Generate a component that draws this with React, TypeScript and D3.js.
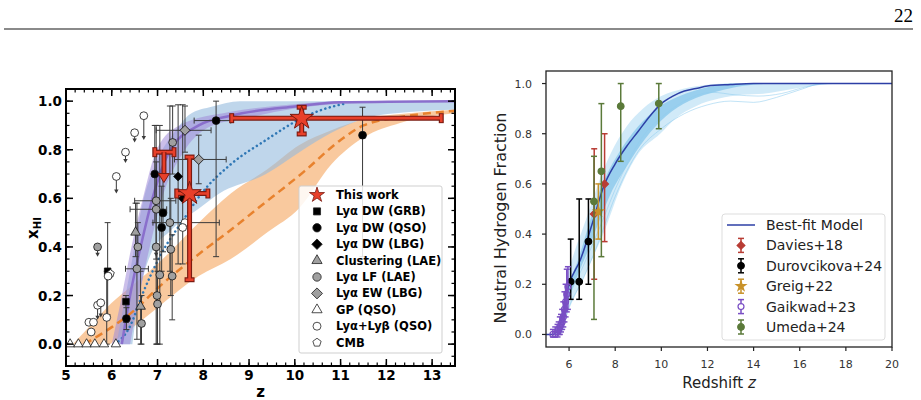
import * as d3 from "d3";
import React from "react";

type XY = [number, number];
type Pt = { z: number; x: number; zlo?: number; zhi?: number; xlo?: number; xhi?: number; lim?: number };

// ---------------- left panel data ----------------
const leftXTicks = [5, 6, 7, 8, 9, 10, 11, 12, 13];
const leftYTicks = [0, 0.2, 0.4, 0.6, 0.8, 1.0];

const purpleUpper: XY[] = [[6.0, 0], [6.2, 0.18], [6.43, 0.4], [6.68, 0.6], [6.98, 0.8], [7.48, 0.9], [8.57, 0.955], [10, 0.987], [11, 1.0], [13.5, 1.0]];
const purpleLower: XY[] = [[6.4, 0], [6.6, 0.2], [6.83, 0.4], [7.1, 0.6], [7.6, 0.8], [8.2, 0.9], [8.8, 0.925], [10, 0.97], [11.5, 0.993], [13.5, 1.0]];
const purpleMid: XY[] = [[6.22, 0], [6.4, 0.2], [6.63, 0.4], [6.89, 0.6], [7.28, 0.8], [7.9, 0.9], [8.6, 0.94], [10, 0.978], [11, 0.995], [13.5, 1.0]];

const blueUpper: XY[] = [[6.1, 0], [6.4, 0.3], [6.7, 0.6], [7.0, 0.76], [7.4, 0.88], [7.7, 0.945], [8.2, 0.978], [8.8, 1.0], [13.5, 1.0]];
const blueLower: XY[] = [[6.45, 0], [6.6, 0.2], [6.83, 0.36], [7.3, 0.47], [7.92, 0.56], [8.35, 0.62], [9.37, 0.7], [10.1, 0.79], [10.8, 0.87], [11.55, 0.93], [12.5, 0.955], [13.5, 0.965]];
const blueDotted: XY[] = [[6.07, 0], [6.39, 0.07], [6.68, 0.21], [7.05, 0.36], [7.63, 0.53], [7.92, 0.61], [8.6, 0.74], [9.37, 0.84], [10.1, 0.925], [10.6, 0.965], [11.1, 0.99]];

const orangeUpper: XY[] = [[5.15, 0], [5.6, 0.09], [6.0, 0.17], [6.5, 0.25], [7.0, 0.33], [7.9, 0.5], [8.6, 0.62], [9.4, 0.72], [10.1, 0.82], [10.8, 0.88], [11.5, 0.925], [12.5, 0.95], [13.5, 0.965]];
const orangeLower: XY[] = [[5.96, 0], [6.4, 0.06], [7.0, 0.15], [7.9, 0.28], [8.6, 0.35], [9.4, 0.46], [10.1, 0.56], [10.8, 0.74], [11.5, 0.85], [12.3, 0.91], [13.5, 0.95]];
const orangeDashed: XY[] = [[5.4, 0], [6.0, 0.07], [6.5, 0.14], [7.0, 0.23], [7.9, 0.37], [8.6, 0.47], [9.2, 0.56], [10.2, 0.71], [11.0, 0.84], [11.5, 0.9], [12.5, 0.94], [13.5, 0.96]];

const thisWork: Pt[] = [
  { z: 7.7, x: 0.62, zlo: 7.42, zhi: 8.1, xlo: 0.265, xhi: 0.77 },
  { z: 10.15, x: 0.93, zlo: 8.62, zhi: 13.2, xlo: 0.865, xhi: 0.975 },
];
const thisWorkLimit: Pt[] = [{ z: 7.14, x: 0.79, zlo: 6.94, zhi: 7.36, lim: 0.665 }];

const grbPts: Pt[] = [
  { z: 5.91, x: 0.3, xlo: 0.12, xhi: 0.5 },
  { z: 6.31, x: 0.175, xlo: 0.09, xhi: 0.2 },
];
const qsoPts: Pt[] = [
  { z: 6.32, x: 0.105, xlo: 0.06, xhi: 0.15 },
  { z: 6.94, x: 0.7, xlo: 0.5, xhi: 0.9 },
  { z: 7.09, x: 0.48, xlo: 0.3, xhi: 0.65 },
  { z: 7.12, x: 0.54, xlo: 0.38, xhi: 0.7 },
  { z: 8.28, x: 0.92, zlo: 7.8, zhi: 8.6, xlo: 0.36, xhi: 1.0 },
  { z: 11.48, x: 0.86, xlo: 0.36, xhi: 0.975 },
];
const lbgPts: Pt[] = [
  { z: 7.45, x: 0.69, xlo: 0.33, xhi: 0.985 },
  { z: 7.55, x: 0.6, xlo: 0.33, xhi: 0.985 },
];
const clusterPts: Pt[] = [
  { z: 6.52, x: 0.46, xlo: 0.36, xhi: 0.58 },
  { z: 6.63, x: 0.155, xlo: 0.0, xhi: 0.3 },
];
const lfPts: Pt[] = [
  { z: 5.69, x: 0.4, lim: 0.36 },
  { z: 6.57, x: 0.4, xlo: 0.3, xhi: 0.5 },
  { z: 6.55, x: 0.31, xlo: 0.02, xhi: 0.58, zlo: 6.3, zhi: 6.8 },
  { z: 6.65, x: 0.085, xlo: 0.0, xhi: 0.2 },
  { z: 6.97, x: 0.59, xlo: 0.0, xhi: 0.9, zlo: 6.5, zhi: 7.4 },
  { z: 6.97, x: 0.555, xlo: 0.35, xhi: 0.75, zlo: 6.4, zhi: 7.2 },
  { z: 6.97, x: 0.4, lim: 0.36 },
  { z: 6.99, x: 0.2, xlo: 0.0, xhi: 0.4 },
  { z: 7.0, x: 0.165, xlo: 0.0, xhi: 0.3 },
  { z: 7.05, x: 0.285, xlo: 0.0, xhi: 0.9 },
  { z: 7.27, x: 0.5, xlo: 0.3, xhi: 0.98 },
  { z: 7.29, x: 0.39, xlo: 0.2, xhi: 0.6 },
  { z: 7.32, x: 0.28, xlo: 0.1, xhi: 0.45 },
  { z: 7.33, x: 0.83, xlo: 0.7, xhi: 0.98 },
];
const ewPts: Pt[] = [
  { z: 7.6, x: 0.88, zlo: 6.97, zhi: 8.17, xlo: 0.79, xhi: 0.98 },
  { z: 7.9, x: 0.76, zlo: 7.37, zhi: 8.5, xlo: 0.66, xhi: 0.86 },
];
const gpPts: Pt[] = [
  { z: 5.09, x: 0 }, { z: 5.27, x: 0 }, { z: 5.45, x: 0 }, { z: 5.63, x: 0 }, { z: 5.83, x: 0 }, { z: 6.09, x: 0 },
];
const lyabPts: Pt[] = [
  { z: 6.1, x: 0.69, lim: 0.62 },
  { z: 6.3, x: 0.79, lim: 0.745 },
  { z: 6.5, x: 0.87, lim: 0.83 },
  { z: 6.7, x: 0.94, lim: 0.84 },
  { z: 5.5, x: 0.09 },
  { z: 5.6, x: 0.09 },
  { z: 5.55, x: 0.05 },
  { z: 5.69, x: 0.16, lim: 0.1 },
  { z: 5.76, x: 0.17, lim: 0.11 },
  { z: 5.89, x: 0.11, xlo: 0.0, xhi: 0.3 },
  { z: 5.92, x: 0.28 },
  { z: 7.6, x: 0.5, zlo: 6.9, zhi: 8.35 },
  { z: 7.55, x: 0.48 },
];
const cmbPts: Pt[] = [{ z: 5.97, x: 0.29 }];

const leftLegend = ["This work", "Lyα DW (GRB)", "Lyα DW (QSO)", "Lyα DW (LBG)", "Clustering (LAE)", "Lyα LF (LAE)", "Lyα EW (LBG)", "GP (QSO)", "Lyα+Lyβ (QSO)", "CMB"];

// ---------------- right panel data ----------------
const rightXTicks = [6, 8, 10, 12, 14, 16, 18, 20];
const rightYTicks = [0, 0.2, 0.4, 0.6, 0.8, 1.0];

const bestFit: XY[] = [[5.0, 0], [5.3, 0.0], [5.6, 0.04], [6.0, 0.2], [6.5, 0.3], [7.0, 0.44], [7.5, 0.59], [8.0, 0.68], [8.5, 0.75], [9.0, 0.81], [9.5, 0.87], [10.0, 0.92], [10.5, 0.95], [11, 0.97], [11.5, 0.98], [12, 0.99], [13, 0.996], [14, 1.0], [20, 1.0]];
const postOuterUpper: XY[] = [[5.0, 0], [5.35, 0], [5.6, 0.05], [5.85, 0.2], [6.2, 0.32], [6.55, 0.41], [7.0, 0.53], [7.26, 0.6], [7.8, 0.72], [8.5, 0.83], [9.2, 0.9], [10, 0.95], [11, 0.98], [12, 0.995], [13, 1], [20, 1]];
const postOuterLower: XY[] = [[5.0, 0], [5.6, 0], [6.0, 0.1], [6.5, 0.2], [7.0, 0.3], [7.48, 0.4], [8.3, 0.6], [9.0, 0.72], [9.95, 0.8], [10.6, 0.86], [11.5, 0.91], [12.5, 0.94], [13.5, 0.955], [14.5, 0.96], [15.5, 0.975], [16.5, 0.99], [18, 1], [20, 1]];
const postInnerUpper: XY[] = [[5.0, 0], [5.4, 0], [5.7, 0.07], [6.0, 0.2], [6.4, 0.3], [6.8, 0.42], [7.2, 0.54], [7.6, 0.63], [8.2, 0.73], [9.0, 0.83], [9.8, 0.9], [10.8, 0.95], [12, 0.985], [13, 1], [20, 1]];
const postInnerLower: XY[] = [[5.0, 0], [5.5, 0], [5.9, 0.12], [6.3, 0.22], [6.8, 0.33], [7.3, 0.45], [7.8, 0.56], [8.5, 0.67], [9.3, 0.78], [10.2, 0.87], [11.2, 0.93], [12.5, 0.97], [13.5, 0.99], [15, 1], [20, 1]];
const sampleA: XY[] = [[5.0, 0], [5.6, 0], [6.0, 0.11], [6.6, 0.22], [7.2, 0.35], [8.0, 0.55], [9.0, 0.73], [10.0, 0.82], [11.0, 0.88], [12.0, 0.915], [13.0, 0.93], [14.0, 0.925], [15.0, 0.945], [16.0, 0.975], [17.0, 1.0], [20, 1.0]];
const sampleB: XY[] = [[5.0, 0], [5.5, 0], [6.0, 0.15], [6.6, 0.27], [7.3, 0.42], [8.2, 0.62], [9.2, 0.79], [10.2, 0.88], [11.2, 0.94], [12.2, 0.965], [13.2, 0.955], [14.2, 0.95], [15.2, 0.96], [16.2, 0.985], [17.2, 1.0], [20, 1.0]];

const davies: Pt[] = [
  { z: 7.09, x: 0.48, xlo: 0.22, xhi: 0.74 },
  { z: 7.54, x: 0.6, xlo: 0.37, xhi: 0.8 },
];
const durovcikova: Pt[] = [
  { z: 6.07, x: 0.21, xlo: 0.14, xhi: 0.38 },
  { z: 6.44, x: 0.21, xlo: 0.14, xhi: 0.54 },
  { z: 6.84, x: 0.37, xlo: 0.2, xhi: 0.54 },
];
const greig: Pt[] = [{ z: 7.27, x: 0.49, xlo: 0.38, xhi: 0.6 }];
const gaikwad: Pt[] = [
  { z: 5.3, x: 0.0, xlo: -0.01, xhi: 0.02 },
  { z: 5.4, x: 0.0, xlo: -0.01, xhi: 0.03 },
  { z: 5.5, x: 0.01, xlo: -0.01, xhi: 0.04 },
  { z: 5.55, x: 0.02, xlo: 0.0, xhi: 0.05 },
  { z: 5.6, x: 0.03, xlo: 0.0, xhi: 0.07 },
  { z: 5.65, x: 0.04, xlo: 0.01, xhi: 0.08 },
  { z: 5.7, x: 0.05, xlo: 0.02, xhi: 0.1 },
  { z: 5.75, x: 0.07, xlo: 0.03, xhi: 0.13 },
  { z: 5.8, x: 0.1, xlo: 0.05, xhi: 0.17 },
  { z: 5.85, x: 0.13, xlo: 0.07, xhi: 0.2 },
  { z: 5.9, x: 0.16, xlo: 0.09, xhi: 0.26 },
  { z: 5.95, x: 0.19, xlo: 0.1, xhi: 0.27 },
];
const umeda: Pt[] = [
  { z: 7.08, x: 0.53, xlo: 0.06, xhi: 0.71 },
  { z: 7.4, x: 0.65, xlo: 0.31, xhi: 0.92 },
  { z: 8.24, x: 0.91, xlo: 0.69, xhi: 1.0 },
  { z: 9.89, x: 0.92, xlo: 0.82, xhi: 1.0 },
];
const rightLegend = ["Best-fit Model", "Davies+18", "Durovcikova+24", "Greig+22", "Gaikwad+23", "Umeda+24"];

// ---------------- helpers ----------------
function bandPath(sx: any, sy: any, upper: XY[], lower: XY[]) {
  const ln = d3.line<XY>().x((d) => sx(d[0])).y((d) => sy(d[1])).curve(d3.curveMonotoneX);
  const a = ln(upper)!;
  const b = ln([...lower].reverse())!;
  return a + "L" + b.slice(1) + "Z";
}

function shapePath(shape: string, size: number) {
  if (shape === "pentagon") {
    const r = Math.sqrt(size / 2.38);
    const pts = d3.range(5).map((i) => {
      const a = -Math.PI / 2 + (i * 2 * Math.PI) / 5;
      return [r * Math.cos(a), r * Math.sin(a)];
    });
    return "M" + pts.map((p) => p.join(",")).join("L") + "Z";
  }
  const types: Record<string, any> = {
    circle: d3.symbolCircle,
    square: d3.symbolSquare,
    diamond: d3.symbolSquare,
    triangle: d3.symbolTriangle,
    star: d3.symbolStar,
  };
  return d3.symbol().type(types[shape]).size(size)()!;
}

function Marker({ cx, cy, shape, size, fill, stroke, sw = 0.8 }: any) {
  const rot = shape === "diamond" ? " rotate(45)" : "";
  return <path d={shapePath(shape, size)} transform={`translate(${cx},${cy})${rot}`} fill={fill} stroke={stroke} strokeWidth={sw} />;
}

function ErrBar({ p, sx, sy, color, cap = 3, sw = 1 }: any) {
  const cx = sx(p.z), cy = sy(p.x);
  const out: any[] = [];
  if (p.xlo !== undefined && p.xhi !== undefined) {
    const y1 = sy(p.xlo), y2 = sy(p.xhi);
    out.push(<line key="v" x1={cx} x2={cx} y1={y1} y2={y2} stroke={color} strokeWidth={sw} />);
    out.push(<line key="c1" x1={cx - cap} x2={cx + cap} y1={y1} y2={y1} stroke={color} strokeWidth={sw} />);
    out.push(<line key="c2" x1={cx - cap} x2={cx + cap} y1={y2} y2={y2} stroke={color} strokeWidth={sw} />);
  }
  if (p.zlo !== undefined && p.zhi !== undefined) {
    const x1 = sx(p.zlo), x2 = sx(p.zhi);
    out.push(<line key="h" x1={x1} x2={x2} y1={cy} y2={cy} stroke={color} strokeWidth={sw} />);
    out.push(<line key="c3" x1={x1} x2={x1} y1={cy - cap} y2={cy + cap} stroke={color} strokeWidth={sw} />);
    out.push(<line key="c4" x1={x2} x2={x2} y1={cy - cap} y2={cy + cap} stroke={color} strokeWidth={sw} />);
  }
  if (p.lim !== undefined) {
    const ty = sy(p.lim);
    out.push(<line key="l" x1={cx} x2={cx} y1={cy} y2={ty - 3} stroke={color} strokeWidth={sw} />);
    out.push(<path key="a" d={`M${cx - 2.2},${ty - 4}L${cx + 2.2},${ty - 4}L${cx},${ty}Z`} fill={color} />);
  }
  return <g>{out}</g>;
}

const leftSeries = [
  { pts: grbPts, shape: "square", fill: "#000", size: 42 },
  { pts: cmbPts, shape: "pentagon", fill: "#fff", size: 40 },
  { pts: gpPts, shape: "triangle", fill: "#fff", size: 38 },
  { pts: lyabPts, shape: "circle", fill: "#fff", size: 48 },
  { pts: clusterPts, shape: "triangle", fill: "#a0a0a0", size: 40 },
  { pts: lfPts, shape: "circle", fill: "#a0a0a0", size: 48 },
  { pts: ewPts, shape: "diamond", fill: "#a0a0a0", size: 50 },
  { pts: qsoPts, shape: "circle", fill: "#000", size: 48 },
  { pts: lbgPts, shape: "diamond", fill: "#000", size: 40 },
];
const leftLegendStyle = [
  { shape: "star", fill: "#e8402a", size: 70 },
  { shape: "square", fill: "#000", size: 50 },
  { shape: "circle", fill: "#000", size: 55 },
  { shape: "diamond", fill: "#000", size: 55 },
  { shape: "triangle", fill: "#a0a0a0", size: 45 },
  { shape: "circle", fill: "#a0a0a0", size: 55 },
  { shape: "diamond", fill: "#a0a0a0", size: 60 },
  { shape: "triangle", fill: "#fff", size: 45 },
  { shape: "circle", fill: "#fff", size: 50 },
  { shape: "pentagon", fill: "#fff", size: 45 },
];

const rightSeries = [
  { pts: davies, color: "#b83c34", shape: "diamond", size: 30, open: false },
  { pts: durovcikova, color: "#000000", shape: "circle", size: 34, open: false },
  { pts: greig, color: "#c8922a", shape: "star", size: 28, open: false },
  { pts: gaikwad, color: "#7a4fc4", shape: "circle", size: 28, open: true },
  { pts: umeda, color: "#5b7a3a", shape: "circle", size: 34, open: false },
];

export default function App() {
  const lx = d3.scaleLinear().domain([5, 13.5]).range([66, 455]);
  const ly = d3.scaleLinear().domain([-0.09, 1.05]).range([366, 89]);
  const rx = d3.scaleLinear().domain([5, 20]).range([546, 892]);
  const ry = d3.scaleLinear().domain([-0.05, 1.05]).range([347, 71]);

  const lLine = d3.line<XY>().x((d) => lx(d[0])).y((d) => ly(d[1])).curve(d3.curveMonotoneX);
  const rLine = d3.line<XY>().x((d) => rx(d[0])).y((d) => ry(d[1])).curve(d3.curveMonotoneX);

  const L = { x0: 66, x1: 455, y0: 89, y1: 366 };
  const R = { x0: 546, x1: 892, y0: 71, y1: 347 };

  const xMinor = d3.range(5, 13.5001, 0.2);
  const yMinor = d3.range(-0.05, 1.05, 0.05);
  const bold = { fontFamily: "DejaVu Sans", fontWeight: 700 } as any;
  const reg = { fontFamily: "DejaVu Sans" } as any;

  const redStroke = "#7a1a10";
  const red = "#e8402a";

  return (
    <div style={{ position: "absolute", left: 0, top: 0 }}>
      <svg width={921} height={400} viewBox="0 0 921 400">
        <rect width={921} height={400} fill="#fff" />
        {/* page header */}
        <text x={913} y={22} textAnchor="end" fontFamily="Liberation Serif" fontSize={19}>22</text>
        <line x1={4} x2={913} y1={29} y2={29} stroke="#8a8a8a" strokeWidth={2} />

        {/* ---------- left panel ---------- */}
        <defs>
          <clipPath id="clipL"><rect x={L.x0} y={L.y0} width={L.x1 - L.x0} height={L.y1 - L.y0} /></clipPath>
          <clipPath id="clipR"><rect x={R.x0} y={R.y0} width={R.x1 - R.x0} height={R.y1 - R.y0} /></clipPath>
        </defs>
        <g clipPath="url(#clipL)">
          <path d={bandPath(lx, ly, orangeUpper, orangeLower)} fill="#f5a862" fillOpacity={0.62} />
          <path d={bandPath(lx, ly, blueUpper, blueLower)} fill="#94bbdd" fillOpacity={0.6} />
          <path d={bandPath(lx, ly, purpleUpper, purpleLower)} fill="#a18bd8" fillOpacity={0.55} />
          <path d={lLine(orangeDashed)!} fill="none" stroke="#e8822e" strokeWidth={2.5} strokeDasharray="8 5" />
          <path d={lLine(blueDotted)!} fill="none" stroke="#2f77b5" strokeWidth={2.5} strokeDasharray="0.1 4.5" strokeLinecap="round" />
          <path d={lLine(purpleMid)!} fill="none" stroke="#8a6fcc" strokeWidth={2.5} />
        </g>
        {leftSeries.map((s, i) => (
          <g key={"le" + i}>{s.pts.map((p, j) => <ErrBar key={j} p={p} sx={lx} sy={ly} color="#3a3a3a" cap={3} sw={1} />)}</g>
        ))}
        {leftSeries.map((s, i) => (
          <g key={"lm" + i}>{s.pts.map((p, j) => <Marker key={j} cx={lx(p.z)} cy={ly(p.x)} shape={s.shape} size={s.size} fill={s.fill} stroke="#111" sw={0.8} />)}</g>
        ))}
        {/* this work */}
        {[...thisWork, ...thisWorkLimit].map((p, i) => (
          <g key={"tw" + i}>
            <ErrBar p={{ ...p, lim: undefined }} sx={lx} sy={ly} color={redStroke} cap={5} sw={5} />
            <ErrBar p={{ ...p, lim: undefined }} sx={lx} sy={ly} color={red} cap={4} sw={2.6} />
          </g>
        ))}
        {thisWorkLimit.map((p, i) => {
          const cx = lx(p.z), cy = ly(p.x), ty = ly(p.lim!);
          return (
            <g key={"lim" + i}>
              <line x1={cx} x2={cx} y1={cy} y2={ty - 6} stroke={redStroke} strokeWidth={5} />
              <line x1={cx} x2={cx} y1={cy} y2={ty - 6} stroke={red} strokeWidth={2.6} />
              <path d={`M${cx - 5.5},${ty - 9}L${cx + 5.5},${ty - 9}L${cx},${ty}Z`} fill={red} stroke={redStroke} strokeWidth={1} />
            </g>
          );
        })}
        {thisWork.map((p, i) => (
          <Marker key={"st" + i} cx={lx(p.z)} cy={ly(p.x)} shape="star" size={170} fill={red} stroke={redStroke} sw={1} />
        ))}

        {/* left frame and ticks */}
        <rect x={L.x0} y={L.y0} width={L.x1 - L.x0} height={L.y1 - L.y0} fill="none" stroke="#000" strokeWidth={2} />
        {xMinor.map((v, i) => (
          <g key={"xm" + i} stroke="#000" strokeWidth={1.2}>
            <line x1={lx(v)} x2={lx(v)} y1={L.y1} y2={L.y1 - 3.5} />
            <line x1={lx(v)} x2={lx(v)} y1={L.y0} y2={L.y0 + 3.5} />
          </g>
        ))}
        {yMinor.map((v, i) => (
          <g key={"ym" + i} stroke="#000" strokeWidth={1.2}>
            <line x1={L.x0} x2={L.x0 + 3.5} y1={ly(v)} y2={ly(v)} />
            <line x1={L.x1} x2={L.x1 - 3.5} y1={ly(v)} y2={ly(v)} />
          </g>
        ))}
        {leftXTicks.map((v) => (
          <g key={"xt" + v}>
            <line x1={lx(v)} x2={lx(v)} y1={L.y1} y2={L.y1 - 7} stroke="#000" strokeWidth={1.5} />
            <line x1={lx(v)} x2={lx(v)} y1={L.y0} y2={L.y0 + 7} stroke="#000" strokeWidth={1.5} />
            <text x={lx(v)} y={380} textAnchor="middle" fontSize={13.5} {...bold}>{v}</text>
          </g>
        ))}
        {leftYTicks.map((v) => (
          <g key={"yt" + v}>
            <line x1={L.x0} x2={L.x0 + 7} y1={ly(v)} y2={ly(v)} stroke="#000" strokeWidth={1.5} />
            <line x1={L.x1} x2={L.x1 - 7} y1={ly(v)} y2={ly(v)} stroke="#000" strokeWidth={1.5} />
            <text x={62} y={ly(v) + 5} textAnchor="end" fontSize={13.5} {...bold}>{v.toFixed(1)}</text>
          </g>
        ))}
        <text x={(L.x0 + L.x1) / 2} y={397} textAnchor="middle" fontSize={15} {...bold}>z</text>
        <text transform="translate(38,228) rotate(-90)" textAnchor="middle" fontSize={15} {...bold}>
          x<tspan fontSize={10} dy={3}>HI</tspan>
        </text>

        {/* left legend */}
        <rect x={299} y={186} width={143} height={167} fill="#fff" fillOpacity={0.85} stroke="#cfcfcf" strokeWidth={1} rx={2} />
        {leftLegend.map((t, i) => {
          const yy = 195 + i * 16.4;
          const st = leftLegendStyle[i];
          return (
            <g key={"ll" + i}>
              <Marker cx={317} cy={yy} shape={st.shape} size={st.size} fill={st.fill} stroke={i === 0 ? redStroke : "#222"} sw={0.8} />
              <text x={336} y={yy + 4} fontSize={11.5} {...bold}>{t}</text>
            </g>
          );
        })}

        {/* ---------- right panel ---------- */}
        <g clipPath="url(#clipR)">
          <path d={bandPath(rx, ry, postOuterUpper, postOuterLower)} fill="#7cc4ea" fillOpacity={0.35} />
          <path d={bandPath(rx, ry, postInnerUpper, postInnerLower)} fill="#55b0e2" fillOpacity={0.45} />
          <path d={rLine(sampleA)!} fill="none" stroke="#8fcdef" strokeWidth={0.8} strokeOpacity={0.7} />
          <path d={rLine(sampleB)!} fill="none" stroke="#8fcdef" strokeWidth={0.8} strokeOpacity={0.7} />
          <path d={rLine(bestFit)!} fill="none" stroke="#2d3fa6" strokeWidth={1.5} />
        </g>
        {rightSeries.map((s, i) => (
          <g key={"rs" + i}>
            {s.pts.map((p, j) => (
              <g key={j}>
                <ErrBar p={p} sx={rx} sy={ry} color={s.color} cap={3} sw={1.5} />
                <Marker cx={rx(p.z)} cy={ry(p.x)} shape={s.shape} size={s.size} fill={s.open ? "none" : s.color} stroke={s.color} sw={1.2} />
              </g>
            ))}
          </g>
        ))}
        <rect x={R.x0} y={R.y0} width={R.x1 - R.x0} height={R.y1 - R.y0} fill="none" stroke="#222" strokeWidth={1.3} />
        {rightXTicks.map((v) => (
          <g key={"rxt" + v}>
            <line x1={rx(v)} x2={rx(v)} y1={R.y1} y2={R.y1 + 4} stroke="#222" strokeWidth={1.2} />
            <text x={rx(v)} y={368} textAnchor="middle" fontSize={11} fill="#333" {...reg}>{v}</text>
          </g>
        ))}
        {rightYTicks.map((v) => (
          <g key={"ryt" + v}>
            <line x1={R.x0} x2={R.x0 - 4} y1={ry(v)} y2={ry(v)} stroke="#222" strokeWidth={1.2} />
            <text x={532} y={ry(v) + 4} textAnchor="end" fontSize={11} fill="#333" {...reg}>{v.toFixed(1)}</text>
          </g>
        ))}
        <text x={(R.x0 + R.x1) / 2} y={388} textAnchor="middle" fontSize={15} fill="#222" {...reg}>
          Redshift <tspan fontStyle="italic">z</tspan>
        </text>
        <text transform="translate(506,218) rotate(-90)" textAnchor="middle" fontSize={16} fill="#222" {...reg}>Neutral Hydrogen Fraction</text>

        {/* right legend */}
        <rect x={722} y={214} width={163} height={126} rx={3} fill="#fff" fillOpacity={0.85} stroke="#dddddd" strokeWidth={1} />
        {rightLegend.map((t, i) => {
          const yy = 225 + i * 20.4;
          return (
            <g key={"rl" + i}>
              {i === 0 ? (
                <line x1={727} x2={755} y1={yy} y2={yy} stroke="#2d3fa6" strokeWidth={1.5} />
              ) : (
                <g>
                  <ErrBar p={{ z: 0, x: 0, xlo: -1, xhi: 1 }} sx={() => 741} sy={(v: number) => yy - v * 7} color={rightSeries[i - 1].color} cap={3} sw={1.5} />
                  <Marker cx={741} cy={yy} shape={rightSeries[i - 1].shape} size={rightSeries[i - 1].size} fill={rightSeries[i - 1].open ? "#fff" : rightSeries[i - 1].color} stroke={rightSeries[i - 1].color} sw={1.2} />
                </g>
              )}
              <text x={766} y={yy + 5} fontSize={14} fill="#222" {...reg}>{t}</text>
            </g>
          );
        })}
      </svg>
    </div>
  );
}
